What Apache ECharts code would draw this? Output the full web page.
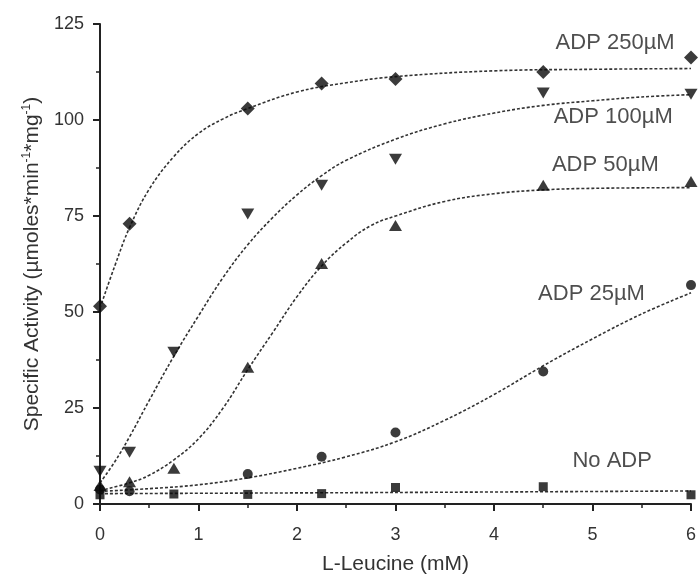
<!DOCTYPE html>
<html>
<head>
<meta charset="utf-8">
<script src="https://cdn.jsdelivr.net/npm/echarts@6/dist/echarts.min.js"></script>
<style>
  html, body { margin: 0; padding: 0; background: #fff; }
  #chart { width: 699px; height: 580px; }
</style>
</head>
<body>
<div id="chart"></div>
<script>
// measured points (L-Leucine mM, specific activity)
const adp250Pts = [[0, 51.5], [0.3, 73], [1.5, 103], [2.25, 109.5], [3, 110.7], [4.5, 112.5], [6, 116.3]]
const adp100Pts = [[0, 8.5], [0.3, 13.5], [0.75, 39.5], [1.5, 75.5], [2.25, 83], [3, 89.8], [4.5, 107], [6, 106.7]]
const adp50Pts = [[0, 4.8], [0.3, 5.8], [0.75, 9.3], [1.5, 35.6], [2.25, 62.6], [3, 72.5], [4.5, 83], [6, 84]]
const adp25Pts = [[0, 3.8], [0.3, 3.3], [1.5, 7.8], [2.25, 12.3], [3, 18.6], [4.5, 34.5], [6, 57]]
const noAdpPts = [[0, 2.4], [0.75, 2.6], [1.5, 2.5], [2.25, 2.7], [3, 4.3], [4.5, 4.5], [6, 2.4]]

// fitted curves
const adp250Fit = [[0, 51], [0.15, 62], [0.3, 72], [0.5, 82], [0.75, 90.5], [1, 96.5], [1.25, 100.3], [1.5, 103],
  [2, 107.3], [2.5, 109.7], [3, 111.3], [4, 112.8], [5, 113.2], [6, 113.4]]
const adp100Fit = [[0, 5.5], [0.15, 11], [0.3, 17.5], [0.5, 27], [0.75, 38.5], [1, 49], [1.25, 59], [1.5, 67.5],
  [1.75, 74.5], [2, 80.5], [2.25, 85.5], [2.5, 89.5], [3, 95], [3.5, 99], [4, 101.8], [4.5, 103.8], [5, 105],
  [5.5, 106], [6, 106.6]]
const adp50Fit = [[0, 3.5], [0.3, 5.5], [0.5, 7.5], [0.75, 11.5], [1, 17], [1.25, 25], [1.5, 35], [1.75, 44.5],
  [2, 54], [2.25, 62], [2.5, 68], [2.75, 72.5], [3, 75], [3.5, 78.8], [4, 80.8], [4.5, 81.8], [5, 82.2], [6, 82.4]]
const adp25Fit = [[0, 3.3], [0.5, 4], [1, 5], [1.5, 6.8], [2, 9.3], [2.5, 12.3], [3, 16.2], [3.5, 21.8], [4, 28.5],
  [4.5, 36], [5, 43], [5.5, 49.5], [6, 55]]
const noAdpFit = [[0, 2.7], [3, 3.0], [6, 3.4]]

const curveNames = ['ADP 250µM', 'ADP 100µM', 'ADP 50µM', 'ADP 25µM', 'No ADP']
const labelAnchors = [[5.23, 120], [5.21, 100.7], [5.13, 88.2], [4.99, 54.7], [5.2, 11.3]]

const FONT = 'Liberation Sans'

const groups = [
  {pts: adp250Pts, fit: adp250Fit, symbol: 'diamond', size: [14, 14], rotate: 0},
  {pts: adp100Pts, fit: adp100Fit, symbol: 'triangle', size: [13, 11], rotate: 180},
  {pts: adp50Pts, fit: adp50Fit, symbol: 'triangle', size: [13, 11], rotate: 0},
  {pts: adp25Pts, fit: adp25Fit, symbol: 'circle', size: 10, rotate: 0},
  {pts: noAdpPts, fit: noAdpFit, symbol: 'rect', size: 9, rotate: 0},
]

const series = []
groups.forEach((g) => {
  /** 拟合虚线 */
  series.push({
    type: 'line',
    data: g.fit,
    smooth: 0.4,
    showSymbol: false,
    silent: true,
    lineStyle: {color: '#333', width: 1.6, type: [3, 2]},
    z: 2,
  })
  /** 数据点 */
  series.push({
    type: 'scatter',
    data: g.pts,
    symbol: g.symbol,
    symbolSize: g.size,
    symbolRotate: g.rotate,
    itemStyle: {color: '#0a0a0a'},
    z: 3,
  })
})

/** 曲线名称 */
series.push({
  type: 'scatter',
  symbolSize: 0,
  silent: true,
  data: labelAnchors.map((p, i) => ({value: p, name: curveNames[i]})),
  label: {
    show: true,
    position: 'inside',
    formatter: '{b}',
    fontFamily: FONT,
    fontSize: 22,
    color: '#222',
  },
})

const axisLine = {show: true, onZero: false, lineStyle: {color: '#222', width: 2}}

const option = {
  backgroundColor: '#ffffff',
  animation: false,
  grid: {left: 100, right: 6, top: 24, bottom: 71},
  xAxis: {
    type: 'value',
    min: 0,
    max: 6,
    interval: 1,
    name: 'L-Leucine (mM)',
    nameLocation: 'middle',
    nameGap: 50,
    nameTextStyle: {fontFamily: FONT, fontSize: 21, color: '#333'},
    axisLine: axisLine,
    axisTick: {show: true, inside: false, length: 7, lineStyle: {color: '#222', width: 2}},
    minorTick: {show: true, splitNumber: 2, length: 4, lineStyle: {color: '#222', width: 1.5}},
    axisLabel: {fontFamily: FONT, fontSize: 18, color: '#333', margin: 22},
    splitLine: {show: false},
  },
  yAxis: {
    type: 'value',
    min: 0,
    max: 125,
    interval: 25,
    name: '{a|Specific Activity (µmoles*min}{s|-1}{a|*mg}{s|-1}{a|)}',
    nameLocation: 'middle',
    nameGap: 53,
    nameTextStyle: {
      fontFamily: FONT,
      fontSize: 21,
      color: '#333',
      rich: {
        a: {fontFamily: FONT, fontSize: 21, color: '#333', lineHeight: 24},
        s: {fontFamily: FONT, fontSize: 12, color: '#333', lineHeight: 14, verticalAlign: 'top'},
      },
    },
    axisLine: axisLine,
    axisTick: {show: true, inside: false, length: 7, lineStyle: {color: '#222', width: 2}},
    minorTick: {show: true, splitNumber: 2, length: 4, lineStyle: {color: '#222', width: 1.5}},
    axisLabel: {fontFamily: FONT, fontSize: 18, color: '#333', margin: 16},
    splitLine: {show: false},
  },
  series: series,
}

const chart = echarts.init(document.getElementById('chart'), null, {renderer: 'canvas'})
chart.setOption(option)
</script>
</body>
</html>
